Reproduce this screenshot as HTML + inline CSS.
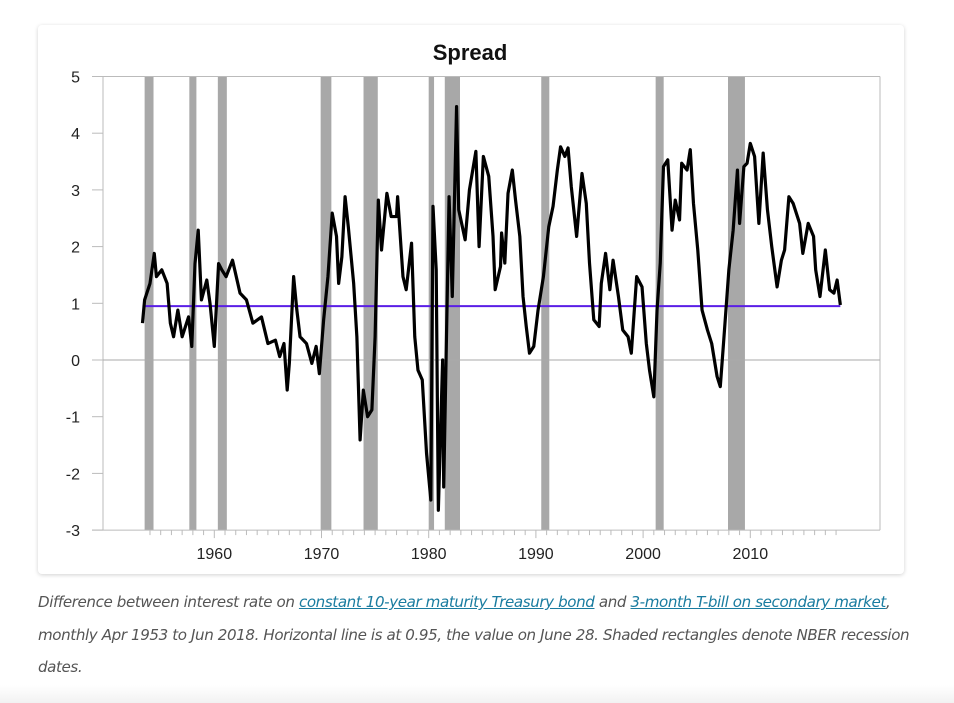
<!DOCTYPE html>
<html><head><meta charset="utf-8"><style>
body{margin:0;width:954px;height:703px;background:#fff;overflow:hidden;font-family:"Liberation Sans",sans-serif;position:relative}
#card{position:absolute;left:38px;top:25px;width:866px;height:549px;background:#fff;border-radius:4px;box-shadow:0 1px 4px rgba(0,0,0,0.18)}
#cap{position:absolute;left:38px;top:586px;width:890px;font-style:italic;font-size:15.1px;line-height:32.5px;color:#555;font-family:"DejaVu Sans","Liberation Sans",sans-serif;letter-spacing:-0.4px}
#cap a{color:#1a7ca0;text-decoration:underline}
#foot{position:absolute;left:0;top:685px;width:954px;height:18px;background:linear-gradient(#fff,#f2f2f2)}
</style></head><body>
<div id="card"></div>
<svg id="chart" width="954" height="580" style="position:absolute;left:0;top:0"></svg>
<div id="cap">Difference between interest rate on <a>constant 10-year maturity Treasury bond</a> and <a>3-month T-bill on secondary market</a>, monthly Apr 1953 to Jun 2018. Horizontal line is at 0.95, the value on June 28. Shaded rectangles denote NBER recession dates.</div>
<div id="foot"></div>
<script>
const years=[1953.3,1953.5,1954.0,1954.4,1954.6,1955.1,1955.6,1955.9,1956.2,1956.6,1957.0,1957.6,1957.9,1958.2,1958.5,1958.8,1959.3,1959.6,1960.0,1960.4,1960.7,1961.1,1961.7,1962.4,1963.0,1963.6,1964.4,1965.0,1965.7,1966.1,1966.5,1966.8,1967.0,1967.4,1967.7,1968.0,1968.6,1969.1,1969.5,1969.8,1970.2,1970.6,1971.0,1971.4,1971.6,1971.9,1972.2,1972.5,1973.0,1973.3,1973.6,1973.9,1974.3,1974.7,1975.0,1975.3,1975.6,1976.1,1976.5,1977.0,1977.1,1977.6,1977.9,1978.4,1978.7,1979.0,1979.4,1979.8,1980.2,1980.4,1980.7,1980.9,1981.3,1981.4,1981.9,1982.2,1982.6,1982.8,1983.4,1983.8,1984.4,1984.7,1985.1,1985.6,1986.0,1986.2,1986.7,1986.8,1987.1,1987.4,1987.8,1988.1,1988.5,1988.8,1989.1,1989.4,1989.8,1990.2,1990.7,1991.2,1991.6,1992.0,1992.3,1992.7,1993.0,1993.3,1993.8,1994.3,1994.7,1995.0,1995.4,1995.9,1996.1,1996.5,1996.9,1997.2,1997.7,1998.1,1998.6,1998.9,1999.4,1999.9,2000.3,2000.6,2001.0,2001.3,2001.6,2001.9,2002.3,2002.7,2003.0,2003.4,2003.6,2004.1,2004.4,2004.7,2005.1,2005.5,2006.0,2006.4,2006.9,2007.2,2007.5,2008.0,2008.4,2008.8,2009.0,2009.4,2009.7,2010.0,2010.4,2010.8,2011.2,2011.6,2012.0,2012.5,2012.9,2013.2,2013.6,2014.0,2014.6,2014.9,2015.4,2015.9,2016.1,2016.5,2017.0,2017.4,2017.8,2018.1,2018.4];
const spread=[0.65,1.06,1.35,1.88,1.47,1.59,1.35,0.65,0.41,0.88,0.41,0.76,0.24,1.7,2.29,1.06,1.41,1.0,0.24,1.7,1.59,1.47,1.76,1.18,1.06,0.65,0.76,0.29,0.35,0.06,0.29,-0.53,-0.06,1.47,0.88,0.41,0.29,-0.06,0.24,-0.24,0.71,1.47,2.59,2.18,1.35,1.82,2.88,2.35,1.35,0.41,-1.41,-0.53,-1.0,-0.88,0.41,2.82,1.94,2.94,2.53,2.53,2.88,1.47,1.24,2.06,0.41,-0.18,-0.35,-1.65,-2.47,2.71,1.59,-2.65,0.0,-2.24,2.88,1.12,4.47,2.65,2.12,3.0,3.68,2.0,3.59,3.24,2.18,1.24,1.65,2.24,1.71,2.94,3.35,2.82,2.18,1.12,0.59,0.12,0.24,0.88,1.47,2.35,2.71,3.35,3.76,3.59,3.74,3.06,2.18,3.29,2.76,1.71,0.71,0.59,1.35,1.88,1.24,1.76,1.12,0.53,0.41,0.12,1.47,1.29,0.29,-0.18,-0.65,0.88,1.71,3.41,3.53,2.29,2.82,2.47,3.47,3.35,3.71,2.76,1.94,0.88,0.53,0.29,-0.29,-0.47,0.29,1.59,2.29,3.35,2.41,3.41,3.47,3.82,3.59,2.41,3.65,2.65,2.0,1.29,1.76,1.94,2.88,2.76,2.41,1.88,2.41,2.18,1.59,1.12,1.94,1.24,1.18,1.41,0.97];
const recStart=[1953.5,1957.67,1960.33,1969.92,1973.92,1980.0,1981.5,1990.5,2001.17,2007.92];
const recEnd=[1954.33,1958.33,1961.17,1970.92,1975.25,1980.5,1982.92,1991.25,2001.92,2009.5];
const yTicks=[5,4,3,2,1,0,-1,-2,-3];
const xTicks=[1960,1970,1980,1990,2000,2010];
const refLevel=[0.95];
const NS="http://www.w3.org/2000/svg";
const svg=document.getElementById('chart');
const X=y=>214.3+(y-1960)*10.72;
const Y=v=>360-v*56.7;
function mk(t,a,p){const e=document.createElementNS(NS,t);for(const k in a)e.setAttribute(k,a[k]);(p||svg).appendChild(e);return e;}
recStart.forEach((s,i)=>{
 const r=mk('rect',{x:X(s),y:Y(5),width:X(recEnd[i])-X(s),height:Y(-3)-Y(5),fill:'#a8a8a8'});
 
 
});
const g=mk('g',{stroke:'#bbb','stroke-width':1});


mk('line',{x1:92,y1:Y(5),x2:880,y2:Y(5)},g);
mk('line',{x1:880,y1:Y(5),x2:880,y2:Y(-3)},g);
mk('line',{x1:103,y1:Y(5),x2:103,y2:Y(-3)},g);
mk('line',{x1:92,y1:Y(-3),x2:880,y2:Y(-3)},g);
mk('line',{x1:103,y1:Y(0),x2:880,y2:Y(0),stroke:'#aaa'},g);
yTicks.forEach(v=>{
 mk('line',{x1:92,y1:Y(v),x2:103,y2:Y(v)},g);
 const t=mk('text',{x:80,y:Y(v)+6,'text-anchor':'end','font-size':16,fill:'#222'});
 t.textContent=v;
 
 
});
for(let yr=1954;yr<=2018;yr++){const big=yr%10==0;mk('line',{x1:X(yr),y1:Y(-3),x2:X(yr),y2:Y(-3)+(big?8:5)},g);}
xTicks.forEach(v=>{
 const t=mk('text',{x:X(v),y:559,'text-anchor':'middle','font-size':16,fill:'#222'});
 t.textContent=v;
 
 
});
const ref=mk('line',{x1:X(years[0]),y1:Y(refLevel[0]),x2:X(years[years.length-1]),y2:Y(refLevel[0]),stroke:'#5a1ee6','stroke-width':2});


const ln=mk('polyline',{points:years.map((y,i)=>X(y)+','+Y(spread[i])).join(' '),fill:'none',stroke:'#000','stroke-width':3.2,'stroke-linejoin':'round'});


const ti=mk('text',{x:470,y:60,'text-anchor':'middle','font-size':22,'font-weight':'bold',fill:'#111'});
ti.textContent='Spread';


</script>
</body></html>
